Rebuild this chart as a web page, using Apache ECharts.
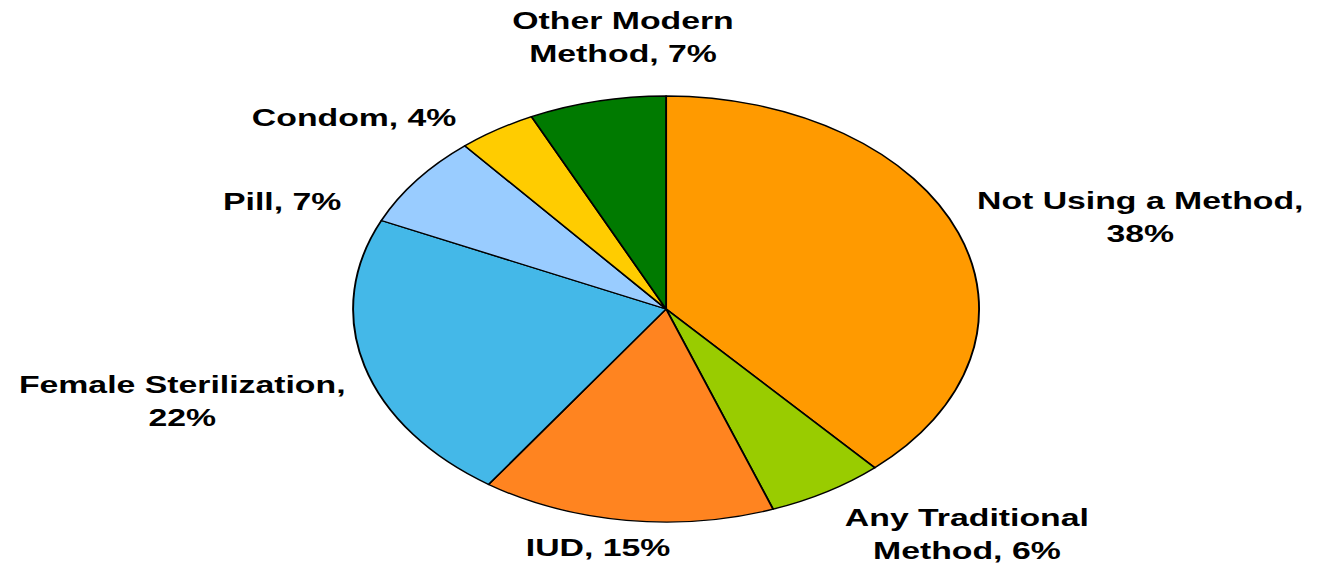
<!DOCTYPE html>
<html>
<head>
<meta charset="utf-8">
<script src="https://cdn.jsdelivr.net/npm/echarts@6/dist/echarts.min.js"></script>
<style>
  html, body { margin: 0; padding: 0; background: #ffffff; overflow: hidden; }
  #wrap { width: 1318px; height: 564px; overflow: hidden; position: relative; }
  #chart { width: 897px; height: 564px; transform: scaleX(1.4694); transform-origin: 0 0; }
</style>
</head>
<body>
<div id="wrap"><div id="chart"></div></div>
<script>
// Data (clockwise from 12 o'clock)
const categories = [
  'Not Using a Method',
  'Any Traditional\nMethod',
  'IUD',
  'Female Sterilization',
  'Pill',
  'Condom',
  'Other Modern\nMethod'
];
const values = [38, 6, 15, 22, 7, 4, 7];
// whether the percentage goes on its own line
const breakBeforeValue = [true, false, false, true, false, false, false];

// Styling / layout (kept separate from data)
const colors = ['#FF9A00', '#99CC00', '#FF8420', '#44B8E8', '#99CCFF', '#FFCC00', '#007A00'];
// label anchor points in the (unscaled) chart coordinate system
const labelAnchors = [
  [776, 218], [658, 535], [407, 548], [124, 402], [192, 202], [241, 118], [424, 38]
];

const chart = echarts.init(document.getElementById('chart'), null, { renderer: 'svg' });
chart.setOption({
  backgroundColor: '#ffffff',
  animation: false,
  series: [{
    type: 'pie',
    center: [453.3, 309],
    radius: 213,
    startAngle: 90,
    clockwise: true,
    avoidLabelOverlap: false,
    itemStyle: { borderColor: '#000000', borderWidth: 1.3 },
    label: {
      show: true,
      position: 'outside',
      color: '#000000',
      fontFamily: 'Liberation Sans, Arial, sans-serif',
      fontWeight: 'bold',
      fontSize: 23,
      lineHeight: 33,
      align: 'center',
      formatter: function (p) {
        const sep = breakBeforeValue[p.dataIndex] ? ',\n' : ', ';
        return p.name + sep + p.value + '%';
      }
    },
    labelLine: { show: false },
    labelLayout: function (p) {
      const a = labelAnchors[p.dataIndex];
      return { x: a[0], y: a[1], align: 'center', verticalAlign: 'middle' };
    },
    emphasis: { disabled: true },
    data: categories.map(function (c, i) {
      return { name: c, value: values[i], itemStyle: { color: colors[i] } };
    })
  }]
});
</script>
</body>
</html>
